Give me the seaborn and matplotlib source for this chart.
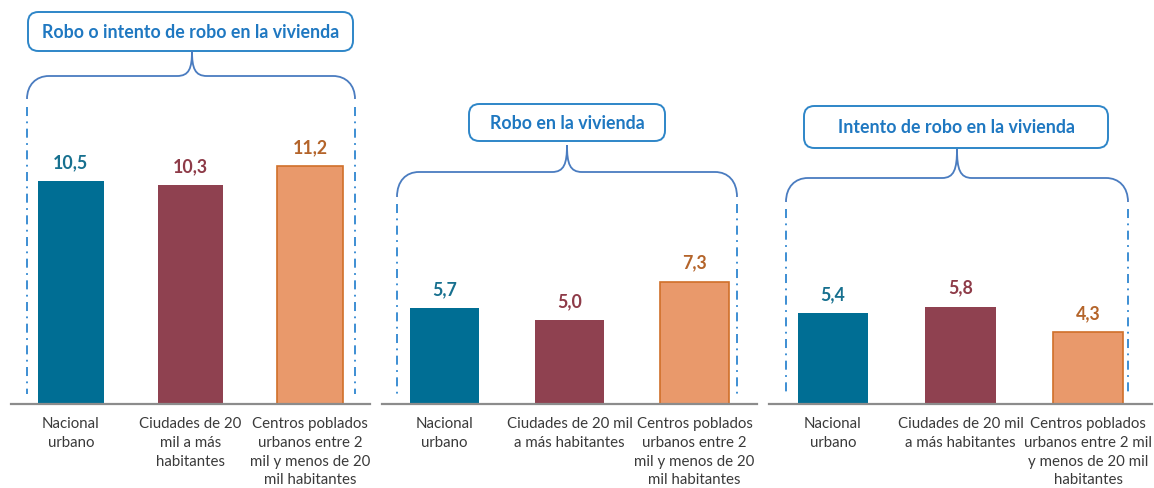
import numpy as np
import pandas as pd
import matplotlib
matplotlib.use("Agg")
import matplotlib.pyplot as plt
import seaborn as sns
from matplotlib.patches import FancyBboxPatch, PathPatch
from matplotlib.path import Path
from matplotlib.lines import Line2D

# ---------------- data ----------------
categories = ["Nacional urbano",
              "Ciudades de 20 mil a más habitantes",
              "Centros poblados urbanos entre 2 mil y menos de 20 mil habitantes"]
panel_titles = ["Robo o intento de robo en la vivienda",
                "Robo en la vivienda",
                "Intento de robo en la vivienda"]
robo_o_intento = [10.5, 10.3, 11.2]
robo = [5.7, 5.0, 7.3]
intento = [5.4, 5.8, 4.3]
tick_labels_p1 = ["Nacional\nurbano",
                  "Ciudades de 20\nmil a más\nhabitantes",
                  "Centros poblados\nurbanos entre 2\nmil y menos de 20\nmil habitantes"]
tick_labels_p2 = ["Nacional\nurbano",
                  "Ciudades de 20 mil\na más habitantes",
                  "Centros poblados\nurbanos entre 2\nmil y menos de 20\nmil habitantes"]
tick_labels_p3 = ["Nacional\nurbano",
                  "Ciudades de 20 mil\na más habitantes",
                  "Centros poblados\nurbanos entre 2 mil\ny menos de 20 mil\nhabitantes"]

# ---------------- style ----------------
bar_colors = ["#006E94", "#8F4150", "#E9996B"]
edge_colors = ["#006E94", "#8F4150", "#D0702A"]
label_colors = ["#17708F", "#8E3B48", "#B4642A"]
title_color = "#1F78C1"
box_color = "#2E86C8"
brace_color = "#4A7CC0"
dash_color = "#2E86D0"

sns.set_theme(style="white")
plt.rcParams["font.family"] = ["Lato", "DejaVu Sans"]

W, H = 1154, 489
fig = plt.figure(figsize=(W / 100, H / 100), dpi=100)


def fx(x):
    return x / W


def fy(y):
    return 1 - y / H


panels = [
    dict(vals=robo_o_intento, ticks=tick_labels_p1, x0=11, x1=370, ymax=12.0,
         box=(28, 13, 353, 52), tip=(192, 52), yh=77, xl=27, xr=355, yarc=100, ydash=108),
    dict(vals=robo, ticks=tick_labels_p2, x0=382, x1=757, ymax=15.2,
         box=(469, 105, 665, 142), tip=(567, 146), yh=173, xl=397, xr=737, yarc=198, ydash=205),
    dict(vals=intento, ticks=tick_labels_p3, x0=769, x1=1152, ymax=15.2,
         box=(804, 107, 1108, 149), tip=(957, 150), yh=179, xl=786, xr=1128, yarc=203, ydash=210),
]

ax_top, ax_bot = 150, 405

for i, p in enumerate(panels):
    ax = fig.add_axes([fx(p["x0"]), fy(ax_bot), fx(p["x1"] - p["x0"]), (ax_bot - ax_top) / H])
    df = pd.DataFrame({"cat": categories, "val": p["vals"]})
    sns.barplot(data=df, x="cat", y="val", hue="cat", order=categories, hue_order=categories,
                palette=bar_colors, saturation=1, legend=False, width=0.55, ax=ax)
    for j, cont in enumerate(ax.containers):
        for patch in cont:
            patch.set_edgecolor(edge_colors[j])
            patch.set_linewidth(1.2 if j == 2 else 0)
        ax.bar_label(cont, labels=[f"{v:.1f}".replace(".", ",") for v in cont.datavalues],
                     padding=8, color=label_colors[j], fontweight="bold", fontsize=12.8)
    ax.set_xlim(-0.5, 2.5)
    ax.set_ylim(0, p["ymax"])
    ax.set_xlabel("")
    ax.set_ylabel("")
    ax.set_yticks([])
    ax.set_xticks(range(3))
    ax.set_xticklabels(p["ticks"], fontsize=10.8, color="#3a3a3a", linespacing=1.42)
    ax.set_xticks([-0.5, 0.5, 1.5, 2.5], minor=True)
    ax.tick_params(axis="x", which="major", length=0, pad=9)
    ax.tick_params(axis="x", which="minor", length=5, width=1.3, color="#8c8c8c", direction="out")
    for s in ["left", "top", "right"]:
        ax.spines[s].set_visible(False)
    ax.spines["bottom"].set_color("#8c8c8c")
    ax.spines["bottom"].set_linewidth(1.6)
    ax.patch.set_alpha(0)

    # title box
    bx0, by0, bx1, by1 = p["box"]
    box = FancyBboxPatch((fx(bx0), fy(by1)), fx(bx1 - bx0), (by1 - by0) / H,
                         boxstyle="round,pad=0,rounding_size=0.009",
                         transform=fig.transFigure, facecolor="white",
                         edgecolor=box_color, linewidth=1.4, mutation_aspect=W / H)
    fig.add_artist(box)
    fig.text(fx((bx0 + bx1) / 2), fy((by0 + by1) / 2), panel_titles[i], ha="center", va="center",
             color=title_color, fontsize=12.8, fontweight="bold")

    # curly brace
    cx, yt = p["tip"]
    yh, xl, xr, ya = p["yh"], p["xl"], p["xr"], p["yarc"]
    pts = []
    codes = []
    for side in (-1, 1):
        xe = xl if side < 0 else xr
        seg = [(cx, yt), (cx, yt + 0.7 * (yh - yt)), (cx + side * 3, yh), (cx + side * 15, yh),
               (xe - side * 22, yh),
               (xe - side * 9, yh), (xe, yh + 9), (xe, ya)]
        c = [Path.MOVETO, Path.CURVE4, Path.CURVE4, Path.CURVE4, Path.LINETO,
             Path.CURVE4, Path.CURVE4, Path.CURVE4]
        pts += seg
        codes += c
    verts = [(fx(x), fy(y)) for x, y in pts]
    fig.add_artist(PathPatch(Path(verts, codes), transform=fig.transFigure, facecolor="none",
                             edgecolor=brace_color, linewidth=1.3))
    for xe in (xl, xr):
        fig.add_artist(Line2D([fx(xe), fx(xe)], [fy(p["ydash"]), fy(395)], transform=fig.transFigure,
                              color=dash_color, linewidth=1.3, linestyle=(0, (5, 3, 1, 3))))

fig.savefig("out.png", dpi=100)
